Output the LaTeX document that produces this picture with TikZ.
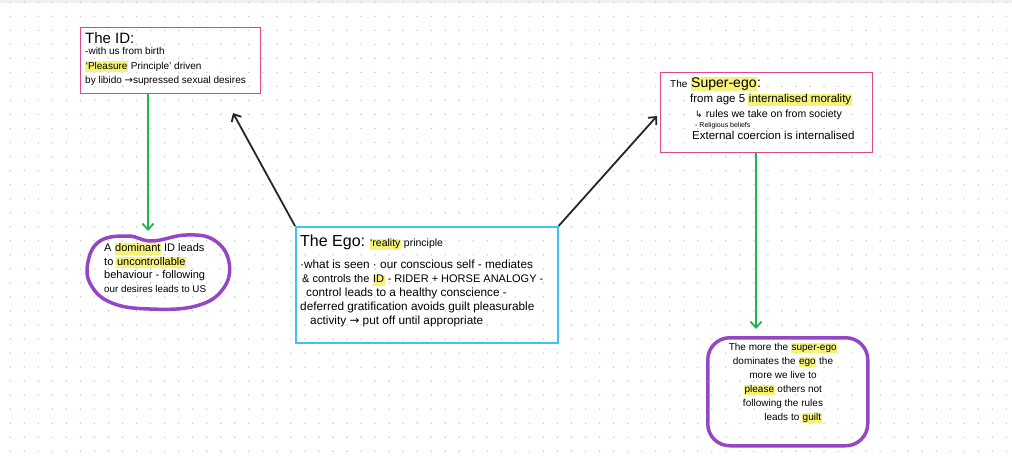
\documentclass[tikz,border=0pt]{standalone}
\usepackage{fontspec}
\setmainfont{Liberation Sans}
\newfontfamily\sym{DejaVu Sans}
\usetikzlibrary{arrows.meta}

\definecolor{boxpink}{HTML}{E0468C}
\definecolor{boxcyan}{HTML}{3EC3F2}
\definecolor{blobpurple}{HTML}{9446C4}
\definecolor{arrowgreen}{HTML}{1FB552}
\definecolor{hlyellow}{HTML}{F6F27A}
\definecolor{dotgray}{HTML}{C8C8C8}

\newcommand{\hl}[1]{{\setlength{\fboxsep}{0.6pt}\colorbox{hlyellow}{\vphantom{Ag}#1}}}

\begin{document}
\begin{tikzpicture}[
	x=1pt, y=-1pt,
	idbox/.style={draw=boxpink, line width=1.4pt, minimum width=#1, anchor=north west, inner sep=0pt},
	egobox/.style={draw=boxcyan, line width=1.6pt, minimum width=262pt, minimum height=116pt, anchor=north west, inner sep=0pt},
	note/.style={align=left, inner sep=0pt, anchor=north west, font=\fontsize{11}{14}\selectfont},
	blob/.style={draw=blobpurple, line width=3.5pt},
	link/.style={-{Straight Barb[length=6pt,width=11pt]}, line width=1.8pt, black!85},
	down/.style={-{Straight Barb[length=6pt,width=11pt]}, line width=1.8pt, arrowgreen}
]
	\useasboundingbox (0,0) rectangle (1012,464);
	\fill[white] (0,0) rectangle (1012,464);
	\fill[black!6] (0,0) rectangle (1012,3);
	% dotted paper
	\foreach \i in {0,...,71}
		\foreach \j in {0,...,32}
			\fill[dotgray] (10.3+14.03*\i, 2.3+14.03*\j) circle (0.8);

	% boxes
	\node[idbox=180pt, minimum height=66pt] (id) at (80,27) {};
	\node[idbox=212pt, minimum height=80pt] (super) at (660,72) {};
	\node[egobox] (ego) at (295,226) {};
	\draw[blob] plot[smooth cycle, tension=0.7] coordinates {
		(88,262) (100,241) (128,236) (152,241) (186,235) (214,240)
		(229,262) (223,289) (196,306) (150,309) (112,303) (91,285)};
	\node[blob, rounded corners=22pt, minimum width=160pt, minimum height=108pt,
		anchor=north west] (guilt) at (706,336) {};

	% texts
	\node[note, font=\fontsize{10}{14}\selectfont] (idtext) at (85,32.5) {%
		{\fontsize{15}{15}\selectfont The ID:}\\[-3pt]
		-with us from birth\\[0.5pt]
		\hl{`Pleasure} Principle' driven\\[0.5pt]
		by libido {\sym→}supressed sexual desires};
	\node[note, font=\fontsize{11.5}{14}\selectfont] (supertext) at (670,77) {%
		{\fontsize{10}{14}\selectfont The} {\fontsize{14}{14}\selectfont\hl{Super-ego}:}\\[1pt]
		\hspace{20pt}from age 5 \hl{internalised morality}\\[1pt]
		\hspace{25pt}{\sym\fontsize{9}{10}\selectfont ↳} {\fontsize{10.5}{10}\selectfont rules we take on from society}\\[-4pt]
		\hspace{25pt}{\fontsize{7}{8}\selectfont - Religious beliefs}\\[-2pt]
		\hspace{22pt}External coercion is internalised};
	\node[note, font=\fontsize{11.8}{14}\selectfont] (egotext) at (300,235) {%
		{\fontsize{16}{16}\selectfont The Ego:} {\fontsize{10.5}{14}\selectfont\hl{`reality} principle}\\[8pt]
		·what is seen · our conscious self - mediates\\
		\hspace{2pt}{\fontsize{11}{14}\selectfont\& controls the \hl{ID} - RIDER + HORSE ANALOGY -}\\
		\hspace{6pt}control leads to a healthy conscience -\\
		deferred gratification avoids guilt pleasurable\\
		\hspace{10pt}activity {\sym→} put off until appropriate};
	\node[note, font=\fontsize{11}{13.5}\selectfont] (domtext) at (104,243) {%
		A \hl{dominant} ID leads\\
		to \hl{uncontrollable}\\
		behaviour - following\\
		{\fontsize{9.8}{13.5}\selectfont our desires leads to US}};
	\node[note, align=center, anchor=center, font=\fontsize{10}{14}\selectfont] (guilttext) at (783,383) {%
		The more the \hl{super-ego}\\
		dominates the \hl{ego} the\\
		more we live to\\
		\hl{please} others not\\
		following the rules\\
		\hspace{20pt}leads to \hl{guilt}};

	% connectors
	\coordinate (domtop) at (148,231);
	\coordinate (guilttop) at (756,329);
	\coordinate (idtip) at (233,113);
	\coordinate (supertip) at (657,116);
	\draw[down] (id.south -| domtop) -- (domtop);
	\draw[down] (super.south -| guilttop) -- (guilttop);
	\draw[link] (ego.north west) -- (idtip);
	\draw[link] (ego.north east) -- (supertip);
\end{tikzpicture}
\end{document}
